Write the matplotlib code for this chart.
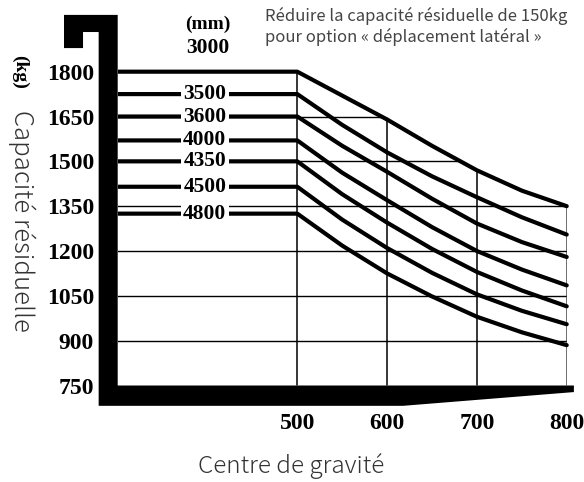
import matplotlib
matplotlib.use("Agg")
import matplotlib.pyplot as plt
from matplotlib.patches import Polygon

# load centre (mm) and residual capacity (kg) per lift height (mm)
centres = [500, 550, 600, 650, 700, 750, 800]
heights = ["3000", "3500", "3600", "4000", "4350", "4500", "4800"]
cap_3000 = [1800, 1720, 1640, 1552, 1470, 1402, 1350]
cap_3500 = [1725, 1622, 1530, 1450, 1380, 1313, 1255]
cap_3600 = [1650, 1552, 1465, 1375, 1292, 1230, 1180]
cap_4000 = [1570, 1462, 1370, 1280, 1200, 1138, 1085]
cap_4350 = [1500, 1390, 1295, 1207, 1130, 1068, 1015]
cap_4500 = [1415, 1305, 1210, 1127, 1055, 1000, 955]
cap_4800 = [1325, 1218, 1125, 1048, 980, 928, 885]
curves = [cap_3000, cap_3500, cap_3600, cap_4000, cap_4350, cap_4500, cap_4800]

y_ticks = [750, 900, 1050, 1200, 1350, 1500, 1650, 1800]
x_ticks = [500, 600, 700, 800]

label_font = ["Noto Sans CJK JP", "DejaVu Sans"]
num_font = "Liberation Serif"

fig = plt.figure(figsize=(5.84, 4.82), dpi=100)
W, H = 584, 482
ax = fig.add_axes([117.7 / W, (H - 385.5) / H, 456.2 / W, 370.6 / H])
ax.set_xlim(300, 808)
ax.set_ylim(750, 1990)
for s in ax.spines.values():
    s.set_visible(False)

# area under the top curve, grid is only drawn inside it
top = cap_3000
clip = Polygon([(300, 750), (300, top[0])] + list(zip(centres, top)) + [(centres[-1], 750)],
               closed=True, transform=ax.transData, fill=False, visible=False)
ax.add_patch(clip)

for y in y_ticks[1:-1]:
    ln, = ax.plot([300, centres[-1]], [y, y], color="black", lw=1.0, zorder=1)
    ln.set_clip_path(clip)
for x in x_ticks:
    ln, = ax.plot([x, x], [750, top[0]], color="black", lw=1.1, zorder=1)
    ln.set_clip_path(clip)

# curves with horizontal leader to the mast
for h, cap in zip(heights, curves):
    ax.plot([300] + centres, [cap[0]] + cap, color="black", lw=3.0,
            solid_capstyle="round", solid_joinstyle="round", zorder=3)
    if h != "3000":
        ax.text(397, cap[0], h, ha="center", va="center", fontsize=15.5, fontweight="bold",
                family=num_font, zorder=4,
                bbox=dict(boxstyle="square,pad=0.12", fc="white", ec="none"))

# fork-shaped frame
frame = Polygon([(278.8, 682), (278.8, 1932.7), (261.4, 1932.7), (261.4, 1879),
                 (240.2, 1879), (240.2, 1990), (300, 1990), (300, 750), (808, 750),
                 (808, 728), (617.7, 682)],
                closed=True, fc="black", ec="none", clip_on=False, zorder=5)
ax.add_patch(frame)

ax.set_yticks(y_ticks)
ax.set_yticklabels([str(v) for v in y_ticks])
ax.set_xticks(x_ticks)
ax.set_xticklabels([str(v) for v in x_ticks])
ax.tick_params(axis="y", length=0, pad=17)
ax.tick_params(axis="x", length=0, pad=20)
for t in ax.get_yticklabels() + ax.get_xticklabels():
    t.set_fontfamily(num_font)
    t.set_fontweight("bold")
    t.set_fontsize(17)

ax.text(400, 1958, "(mm)", ha="center", va="center", fontsize=14, fontweight="bold",
        family=num_font, clip_on=False)
ax.text(400, 1880, "3000", ha="center", va="center", fontsize=15.5, fontweight="bold",
        family=num_font, clip_on=False)

fig.text(20 / W, 1 - 72 / H, "(kg)", rotation=270, ha="center", va="center",
         fontsize=14, fontweight="bold", family=num_font)
fig.text(22 / W, 1 - 221 / H, "Capacité résiduelle", rotation=270, ha="center", va="center",
         fontsize=18.5, fontweight="light", family=label_font, color="#333333")
fig.text(291 / W, 1 - 466 / H, "Centre de gravité", ha="center", va="center",
         fontsize=17.5, fontweight="light", family=label_font, color="#333333")
fig.text(265 / W, 1 - 26 / H, "Réduire la capacité résiduelle de 150kg\npour option « déplacement latéral »",
         ha="left", va="center", fontsize=12, family=label_font, color="#444444",
         linespacing=1.2)

fig.savefig("out.png", dpi=100)
